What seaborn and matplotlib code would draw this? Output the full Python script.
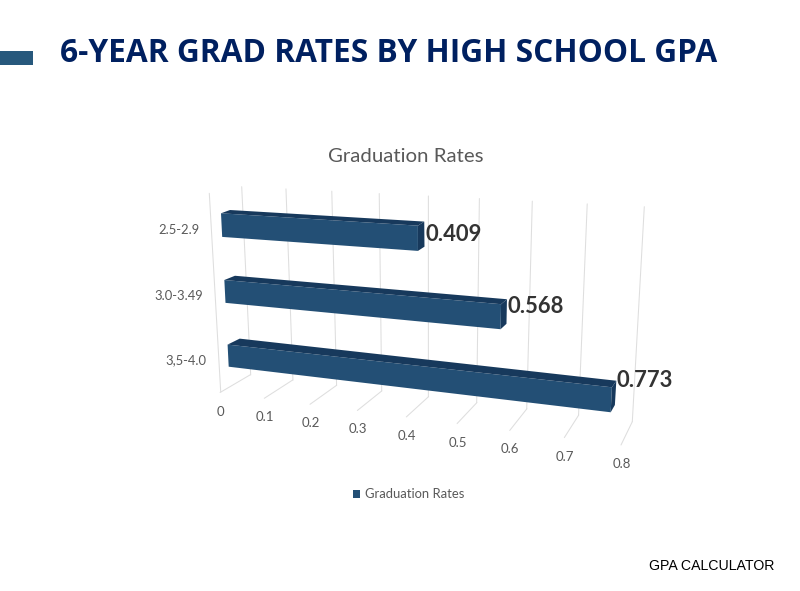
import numpy as np
import matplotlib
matplotlib.use("Agg")
import matplotlib.pyplot as plt
from matplotlib.patches import Polygon, Rectangle
from matplotlib.transforms import Affine2D, Transform
import seaborn as sns

# ---------- data ----------
CATEGORIES = ["2.5-2.9", "3.0-3.49", "3,5-4.0"]
RATES = [0.409, 0.568, 0.773]
VALUE_TICKS = [0, 0.1, 0.2, 0.3, 0.4, 0.5, 0.6, 0.7, 0.8]
SERIES = "Graduation Rates"

# ---------- style ----------
W, H = 800, 591
BAR_WIDTH = 0.35
FRONT = "#234f75"
TOP = "#17395c"
SIDE = "#17395c"
GRID = "#dedede"
GRAY = "#595959"
NAVY = "#002060"
CHART_FONT = "Lato"

sns.set_theme(style="white")
plt.rcParams["font.family"] = [CHART_FONT, "DejaVu Sans"]


class Projective(Transform):
    """Homography from (value, other) chart coordinates to image pixels."""
    input_dims = output_dims = 2
    is_separable = False

    def __init__(self, src, dst):
        super().__init__()
        rows, rhs = [], []
        for (x, y), (u, v) in zip(src, dst):
            rows.append([x, y, 1, 0, 0, 0, -u * x, -u * y])
            rows.append([0, 0, 0, x, y, 1, -v * x, -v * y])
            rhs += [u, v]
        self.m = np.append(np.linalg.solve(np.array(rows, float), np.array(rhs, float)), 1).reshape(3, 3)

    def transform_non_affine(self, values):
        pts = np.asarray(values, float)
        p = np.c_[pts, np.ones(len(pts))] @ self.m.T
        return p[:, :2] / p[:, 2:]


def corners(x0, x1, y0, y1):
    return [(x0, y0), (x1, y0), (x0, y1), (x1, y1)]


vmax = VALUE_TICKS[-1]
vnext = VALUE_TICKS[1]
ylo, yhi = -BAR_WIDTH / 2, len(CATEGORIES) - 1 + BAR_WIDTH / 2

# camera calibration: where each plane's corners land in the image
front_plane = Projective(corners(0, vmax, ylo, yhi),
                         [(221, 213.3), (635, 239.3), (228.7, 366.7), (626, 414.1)])
back_plane = Projective(corners(0, vmax, ylo, yhi),
                        [(230, 210), (641.2, 234.5), (241.3, 360), (630, 406.8)])
wall_plane = Projective(corners(0, vmax, 0, 1),
                        [(250.7, 375), (632.3, 421.7), (241.7, 186.7), (644.3, 206.7)])
floor_plane = Projective(corners(vnext, vmax, 0, 1),
                         [(292.7, 380), (632.3, 421.7), (264.3, 398.3), (621, 445)])
side_plane = Projective(corners(0, 1, 0, 1),
                        [(250.7, 375), (220.7, 391.7), (241.7, 186.7), (209.3, 193.3)])

fig = plt.figure(figsize=(W / 100, H / 100), dpi=100, facecolor="white")
ax = fig.add_axes([0, 0, 1, 1])
to_fig = Affine2D().scale(1 / W, -1 / H).translate(0, 1) + fig.transFigure

sns.barplot(x=RATES, y=CATEGORIES, orient="h", width=BAR_WIDTH, color=FRONT,
            saturation=1, label=SERIES, ax=ax, legend=False, edgecolor="none", linewidth=0)
leg = ax.legend(loc="center", bbox_to_anchor=(408.5 / W, 1 - 494.5 / H), bbox_transform=fig.transFigure,
                frameon=False, fontsize=9.4, handlelength=0.55, handleheight=0.55,
                handletextpad=0.37, labelcolor=GRAY)

# gridlines
for v in VALUE_TICKS:
    ax.plot([v, v], [0, 1], color=GRID, lw=0.75, transform=wall_plane + to_fig, zorder=1, clip_on=False)
    ax.plot([v, v], [0, 1], color=GRID, lw=0.75, transform=floor_plane + to_fig, zorder=1, clip_on=False)
    ax.annotate(f"{v:g}", xy=(v, 1), xycoords=floor_plane + to_fig, xytext=(0.5, -19),
                textcoords="offset pixels", ha="center", va="center", fontsize=9.5, color=GRAY)
ax.plot([1, 1], [0, 1], color=GRID, lw=0.75, transform=side_plane + to_fig, zorder=1, clip_on=False)

# bars: the seaborn rectangles become the front faces; top and side faces join front to back plane
for patch in ax.patches:
    patch.set_transform(front_plane + to_fig)
    x0, y0 = patch.get_x(), patch.get_y()
    w, h = patch.get_width(), patch.get_height()
    fr = front_plane.transform([(x0, y0), (x0 + w, y0), (x0 + w, y0 + h)])
    bk = back_plane.transform([(x0, y0), (x0 + w, y0), (x0 + w, y0 + h)])
    ax.add_patch(Polygon([fr[0], fr[1], bk[1], bk[0]], closed=True, facecolor=TOP,
                         edgecolor="none", transform=to_fig, zorder=3, clip_on=False))
    ax.add_patch(Polygon([fr[1], fr[2], bk[2], bk[1]], closed=True, facecolor=SIDE,
                         edgecolor="none", transform=to_fig, zorder=3, clip_on=False))
    patch.set_zorder(3)
    patch.set_clip_on(False)

# category labels
for i, cat in enumerate(CATEGORIES):
    ax.annotate(cat, xy=(0, i), xycoords=front_plane + to_fig, xytext=(-22, -4.5),
                textcoords="offset pixels", ha="right", va="center", fontsize=9.4, color=GRAY)

# data labels
LABEL_RISE = [0, 5, 12]
for i, (r, rise) in enumerate(zip(RATES, LABEL_RISE)):
    ax.annotate(f"{r:g}", xy=(r, i), xycoords=back_plane + to_fig, xytext=(1, rise),
                textcoords="offset pixels", ha="left", va="center", fontsize=15.8,
                fontweight="bold", color="#333333", zorder=5)

ax.axis("off")

# slide furniture
fig.text(406 / W, 1 - 156.5 / H, SERIES, ha="center", va="center", fontsize=14.7, color=GRAY)
fig.text(60 / W, 1 - 54 / H, "6-YEAR GRAD RATES BY HIGH SCHOOL GPA", ha="left", va="center",
         fontsize=22.8, fontweight="bold", color=NAVY, family=["Open Sans", "DejaVu Sans"])
fig.text(774 / W, 1 - 565.5 / H, "GPA CALCULATOR", ha="right", va="center", fontsize=10.15,
         color="black", family=["Liberation Sans", "DejaVu Sans"])
fig.add_artist(Rectangle((0, 1 - 65 / H), 32.5 / W, 14.3 / H, transform=fig.transFigure,
                         facecolor="#27587c", edgecolor="none"))

fig.savefig("out.png", dpi=100, facecolor="white")
